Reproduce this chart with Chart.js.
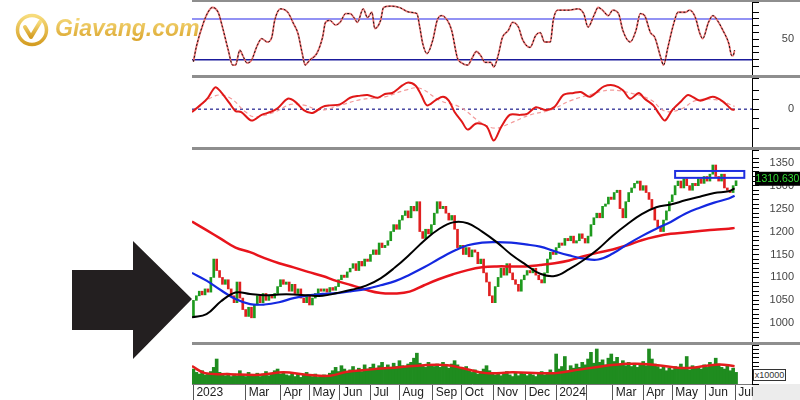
<!DOCTYPE html>
<html>
<head>
<meta charset="utf-8">
<script src="https://cdn.jsdelivr.net/npm/chart.js@4.4.1/dist/chart.umd.min.js"></script>
<style>
  body { margin: 0; width: 800px; height: 400px; overflow: hidden; background: #fff; position: relative; font-family: "Liberation Sans", Arial, sans-serif; }
  canvas, .sep, .abs { position: absolute; }
  .sep { left: 192px; width: 608px; background: #8e8e8e; }
  #logoText { left: 55px; top: 15px; font: italic bold 23px "Liberation Sans", Arial, sans-serif;
    background: linear-gradient(#f7dd80, #d9a228); -webkit-background-clip: text; background-clip: text; color: transparent; }
  #arrow { left: 72px; top: 240px; width: 120px; height: 120px; background: #231f20;
    clip-path: polygon(0 30px, 61px 30px, 61px 1px, 120px 59px, 61px 119px, 61px 90px, 0 90px); }
  #unit { left: 753px; top: 369px; width: 31px; height: 10px; background: #fff; border: 1px solid #333; font-size: 9px; line-height: 10px; color: #333; text-align: center; }
  #dateEnd { left: 752px; top: 384px; width: 48px; height: 16px; background: #ececec; }
</style>
</head>
<body>
<svg class="abs" style="left:15px;top:13px" width="34" height="34" viewBox="0 0 34 34">
  <defs><linearGradient id="gold" x1="0" y1="0" x2="0" y2="1"><stop offset="0" stop-color="#f7dc7c"/><stop offset="1" stop-color="#d49d22"/></linearGradient></defs>
  <circle cx="17" cy="17" r="14.5" fill="none" stroke="url(#gold)" stroke-width="3.5"/>
  <path d="M10 14 L16 24 L25 9" fill="none" stroke="url(#gold)" stroke-width="4" stroke-linejoin="round" stroke-linecap="round"/>
</svg>
<div id="logoText" class="abs">Giavang.com</div>
<div id="arrow" class="abs"></div>
<div id="dateEnd" class="abs"></div>

<canvas id="stoch" width="608" height="73" style="left:192px;top:2px"></canvas>
<canvas id="macd" width="608" height="69" style="left:192px;top:78px"></canvas>
<canvas id="price" width="608" height="192" style="left:192px;top:150px"></canvas>
<canvas id="vol" width="608" height="55" style="left:192px;top:345px"></canvas>

<div class="sep" style="top:0;height:2px"></div>
<div class="sep" style="top:75px;height:3px"></div>
<div class="sep" style="top:147px;height:3px"></div>
<div class="sep" style="top:342px;height:3px"></div>
<div id="unit" class="abs">x10000</div>

<script>
// x axis is in trading days from early Jan 2023
const monthDays = [1, 37, 61, 81, 102, 123, 143, 166, 186, 208, 230, 251, 272, 290, 311, 331, 354, 374.5];
const monthLabels = ['2023','Mar','Apr','May','Jun','Jul','Aug','Sep','Oct','Nov','Dec','2024','','Mar','Apr','May','Jun','Jul'];

// price, one bar every 2 sessions
const firstOpen = 1015;
const closes = [
  1050,1060,1070,1062,1075,1068,1100,1140,1115,1100,
  1085,1095,1075,1060,1045,1090,1055,1030,1015,1035,
  1012,1040,1060,1045,1065,1050,1060,1055,1065,1080,
  1095,1085,1090,1070,1085,1065,1075,1055,1045,1060,
  1040,1055,1065,1075,1070,1075,1068,1078,1072,1080,
  1095,1105,1100,1112,1120,1130,1115,1135,1125,1140,
  1135,1150,1160,1150,1175,1165,1170,1180,1200,1215,
  1205,1225,1235,1245,1230,1255,1245,1265,1200,1185,
  1205,1195,1215,1240,1265,1250,1255,1240,1225,1235,
  1205,1165,1170,1150,1165,1145,1160,1155,1130,1140,
  1110,1090,1060,1045,1080,1100,1120,1105,1130,1110,
  1095,1085,1070,1095,1105,1115,1110,1120,1105,1095,
  1088,1110,1140,1155,1150,1165,1175,1170,1185,1180,
  1190,1175,1180,1195,1185,1175,1190,1215,1230,1240,
  1230,1255,1260,1275,1270,1285,1290,1250,1230,1265,
  1285,1295,1305,1310,1290,1300,1285,1270,1250,1225,
  1210,1200,1225,1245,1265,1280,1300,1310,1295,1315,
  1300,1290,1305,1300,1315,1305,1320,1310,1325,1345,
  1320,1310,1325,1295,1290,1285,1300,1310.63
];
const volumes = [
  22000,18000,16000,20000,15000,17000,19000,24000,34000,
  18000,15000,14000,17000,13000,16000,14000,20000,15000,13000,18000,14000,
  15000,17000,13000,16000,19000,14000,17000,20000,22000,16000,18000,
  15000,14000,17000,13000,16000,12000,15000,18000,14000,13000,16000,12000,14000,15000,13000,17000,
  20000,24000,19000,26000,22000,18000,21000,25000,20000,23000,19000,27000,22000,
  24000,28000,22000,26000,30000,24000,27000,23000,29000,25000,32000,26000,24000,28000,30000,
  35000,41000,29000,26000,24000,30000,27000,25000,28000,24000,
  30000,26000,23000,28000,32000,27000,24000,22000,25000,20000,18000,21000,16000,19000,22000,
  26000,20000,18000,15000,17000,14000,16000,19000,15000,13000,17000,14000,18000,16000,14000,
  17000,15000,13000,16000,19000,15000,18000,21000,17000,40000,
  22000,25000,37000,20000,26000,23000,28000,24000,30000,27000,
  34000,42000,29000,46000,30000,33000,27000,35000,40000,31000,
  36000,28000,32000,26000,30000,25000,29000,24000,27000,31000,
  26000,46000,34000,28000,25000,22000,26000,20000,23000,21000,
  25000,22000,28000,24000,37000,21000,26000,23000,25000,22000,
  27000,24000,30000,26000,35000,28000,24000,22000,26000,20000,23000,18000
];

// moving averages on the price panel
const maDays = [0,10,20,30,40,50,60,70,80,90,100,110,120,130,140,150,160,170,180,190,200,210,220,230,240,250,260,270,280,290,300,310,320,330,340,350,360,370,374];
const maRed = [1222,1203,1184,1165,1155,1142,1131,1122,1112,1103,1092,1083,1073,1066,1065,1069,1083,1096,1107,1116,1122,1124,1124,1124,1127,1131,1137,1146,1154,1161,1170,1181,1189,1195,1198,1201,1204,1206,1208];
const maBlack = [1013,1020,1048,1067,1064,1061,1063,1063,1061,1060,1066,1073,1082,1098,1122,1150,1180,1205,1220,1218,1200,1177,1150,1128,1108,1103,1118,1138,1162,1191,1216,1238,1253,1259,1268,1276,1284,1288,1294];
const maBlue = [1110,1093,1072,1053,1042,1041,1046,1055,1061,1064,1066,1070,1075,1083,1092,1106,1122,1140,1157,1170,1176,1177,1176,1172,1167,1157,1148,1141,1139,1152,1172,1190,1206,1221,1239,1252,1263,1272,1278];

// resistance box: [startDay, endDay], [lowPrice, highPrice]
const boxDays = [333, 380.7];
const boxPrices = [1317, 1332];

// oscillators: [day, value]
const stochK = [[1,17],[3,39],[8,75],[11,90],[14,97],[18,90],[21,68],[25,34],[28,12],[30,12],[33,34],[35,26],[38,15],[41,19],[45,41],[48,51],[52,46],[55,53],[57,78],[61,95],[66,90],[70,73],[73,59],[76,29],[78,12],[81,19],[86,29],[90,53],[92,75],[95,78],[99,71],[102,75],[106,88],[109,88],[112,81],[114,75],[118,95],[121,82],[124,90],[126,66],[130,78],[132,97],[137,99],[143,97],[150,90],[155,88],[157,68],[159,44],[162,29],[166,49],[169,78],[172,85],[176,78],[179,63],[183,22],[186,15],[190,12],[193,22],[196,32],[199,26],[202,16],[206,16],[208,9],[211,26],[214,53],[218,63],[221,75],[225,68],[228,49],[233,38],[237,56],[240,60],[243,46],[247,46],[249,78],[252,93],[259,93],[266,95],[270,88],[273,68],[277,85],[280,97],[283,93],[287,85],[290,93],[294,88],[297,63],[302,46],[306,63],[309,88],[312,85],[316,60],[319,53],[323,24],[325,12],[328,38],[332,73],[335,90],[340,90],[343,93],[347,82],[350,59],[352,51],[356,75],[359,85],[363,75],[366,63],[370,44],[372,26],[373,26],[374,34]];
const stochLevels = [20, 80];

const macdLine = [[0,-3],[7,6],[11,12],[16,23],[20,18],[26,6],[30,-2],[34,-3],[41,-12],[48,-6],[54,-3],[59,1],[66,11],[71,8],[77,-1],[83,-4],[90,2.5],[95,4],[102,5],[109,12],[115,14],[121,15],[128,12],[133,16],[138,17],[145,25],[149,28],[154,25],[158,15],[162,4],[168,9.5],[173,13],[177,9],[181,-3],[186,-13],[190,-21.5],[196,-15],[203,-18],[208,-33],[213,-19],[219,-6],[226,-6],[231,-5],[237,2],[244,-1],[250,2.5],[256,15],[263,17],[268,18],[274,13],[279,18],[284,24],[291,25],[297,20],[302,11],[308,17],[312,11],[318,4],[322,-5],[326,-12],[331,-1],[337,8],[342,15],[350,9],[359,13],[366,8],[372,-0.3],[374,-0.5]];
const macdSignal = [[0,-3],[16,14],[26,12],[37,-3],[43,-8],[57,-3],[68,5],[78,4],[88,-1],[102,4],[116,10],[133,13],[147,20],[157,22],[171,9],[185,2],[199,-14],[209,-20],[219,-15],[233,-6],[247,-1],[261,9],[274,15],[288,20],[302,17],[316,10],[326,-2],[337,0],[347,9],[361,10],[374,3]];

const volAvg = [[0,25400],[9,17100],[26,15900],[47,15100],[63,18000],[79,15100],[95,13900],[106,18400],[122,21300],[143,24200],[160,26600],[176,26600],[186,23300],[203,17100],[221,18000],[240,17100],[251,17100],[267,21300],[283,25400],[299,28200],[307,28200],[321,26600],[337,23300],[348,24200],[363,27500],[374,25400]];

const X_MAX = 386;
const FONT = { family: 'Liberation Sans', size: 11 };
const pts = arr => arr.map(p => ({ x: p[0], y: p[1] }));
const hline = v => [{ x: 0, y: v }, { x: X_MAX, y: v }];

function yAxis(min, max, step, labelFn) {
  return {
    position: 'right', min, max,
    border: { display: true, color: '#000' },
    grid: { drawOnChartArea: false, drawTicks: true, tickLength: 7, color: '#000' },
    ticks: { stepSize: step, autoSkip: false, crossAlign: 'far', color: '#444', font: FONT, callback: labelFn },
    afterFit: s => { s.width = 42; s.paddingTop = 0; s.paddingBottom = 0; }
  };
}
const every = n => v => (v >= 0 && Math.abs(v % n) < 1e-6) ? String(v) : '';
const xHidden = () => ({ type: 'linear', min: 0, max: X_MAX, offset: false, display: false });
const base = {
  responsive: false, animation: false, devicePixelRatio: 1,
  layout: { padding: { right: 6 } },
  plugins: { legend: { display: false }, tooltip: { enabled: false } },
  elements: { point: { radius: 0 } }
};
function line(data, color, width, dash, extra) {
  return Object.assign({ type: 'line', data, borderColor: color, borderWidth: width, borderDash: dash || [], fill: false, pointRadius: 0 }, extra || {});
}

// stochastic panel
new Chart(document.getElementById('stoch'), {
  type: 'line',
  data: { datasets: [
    line(pts(stochK), '#111', 1, [2, 2], { cubicInterpolationMode: 'monotone', order: 1 }),
    line(pts(stochK), '#ec6f6f', 1.8, null, { cubicInterpolationMode: 'monotone', order: 2 }),
    line(hline(stochLevels[1]), '#6e6ef0', 1.5, null, { order: 3 }),
    line(hline(stochLevels[0]), '#1a1a9c', 1.5, null, { order: 3 })
  ] },
  options: Object.assign({}, base, { scales: { x: xHidden(), y: yAxis(-2.7, 105.1, 10, v => v === 50 ? '50' : '') } })
});

// macd panel
new Chart(document.getElementById('macd'), {
  type: 'line',
  data: { datasets: [
    line(pts(macdLine), '#e01818', 2, null, { tension: 0.3, order: 1 }),
    line(pts(macdSignal), '#f39a9a', 1.2, [4, 3], { tension: 0.4, order: 2 }),
    line(hline(0), '#1c1c8c', 1.2, [3, 3], { order: 3 })
  ] },
  options: Object.assign({}, base, { scales: { x: xHidden(), y: yAxis(-39.8, 32.8, 10, v => v === 0 ? '0' : '') } })
});

// price panel
const candleData = closes.map((c, i) => ({ x: 1 + 2 * i, y: [i ? closes[i - 1] : firstOpen, c] }));
const candleColors = candleData.map(d => d.y[1] >= d.y[0] ? '#1e9a1e' : '#e02020');
const maPts = vals => vals.map((v, i) => ({ x: maDays[i], y: v }));

const overlay = {
  id: 'overlay',
  afterDraw(chart) {
    const { ctx, chartArea } = chart;
    const x = chart.scales.x, y = chart.scales.y;
    ctx.save();
    ctx.strokeStyle = '#1f2fe0';
    ctx.lineWidth = 2;
    const x0 = x.getPixelForValue(boxDays[0]), x1 = x.getPixelForValue(boxDays[1]);
    const y0 = y.getPixelForValue(boxPrices[1]), y1 = y.getPixelForValue(boxPrices[0]);
    ctx.strokeRect(x0, y0, x1 - x0, y1 - y0);
    const last = closes[closes.length - 1];
    const py = y.getPixelForValue(last);
    ctx.fillStyle = '#000';
    ctx.fillRect(chartArea.right + 3, py - 9, chart.width - chartArea.right - 3, 14);
    ctx.fillStyle = '#33dd33';
    ctx.font = '10.5px "Liberation Sans"';
    ctx.textAlign = 'center';
    ctx.textBaseline = 'middle';
    ctx.fillText(last.toFixed(3), (chartArea.right + 3 + chart.width) / 2, py - 2);
    ctx.restore();
  }
};

new Chart(document.getElementById('price'), {
  type: 'bar',
  data: { datasets: [
    { type: 'bar', data: candleData, backgroundColor: candleColors, barThickness: 2, borderWidth: 0, order: 5 },
    line(maPts(maRed), '#e8141c', 2.5, null, { tension: 0.4, order: 3 }),
    line(maPts(maBlue), '#1428e0', 2.2, null, { tension: 0.4, order: 2 }),
    line(maPts(maBlack), '#000', 2, null, { tension: 0.4, order: 1 })
  ] },
  options: Object.assign({}, base, { scales: { x: xHidden(), y: yAxis(959.3, 1377.7, 10, every(50)) } }),
  plugins: [overlay]
});

// volume panel + date axis
new Chart(document.getElementById('vol'), {
  type: 'bar',
  data: { datasets: [
    { type: 'bar', data: volumes.map((v, i) => ({ x: 1 + 2 * i, y: v })), backgroundColor: '#1f8c1f', barThickness: 3, borderWidth: 0, order: 2 },
    line(pts(volAvg), '#e41c1c', 2.5, null, { tension: 0.4, order: 1 })
  ] },
  options: Object.assign({}, base, { scales: {
    x: {
      type: 'linear', min: 0, max: X_MAX, offset: false,
      border: { display: true, color: '#777' },
      grid: { offset: false, drawOnChartArea: false, drawTicks: true, tickLength: 16, color: '#555' },
      afterBuildTicks: s => { s.ticks = monthDays.map(v => ({ value: v })); },
      ticks: { autoSkip: false, maxRotation: 0, align: 'start', labelOffset: 3, padding: -15, color: '#222',
        font: { family: 'Liberation Sans', size: 12 }, callback: (v, i) => monthLabels[i] },
      afterFit: s => { s.height = 16; s.paddingLeft = 0; s.paddingRight = 0; }
    },
    y: yAxis(4070, 50800, 5000, every(20000))
  } })
});
</script>
</body>
</html>
